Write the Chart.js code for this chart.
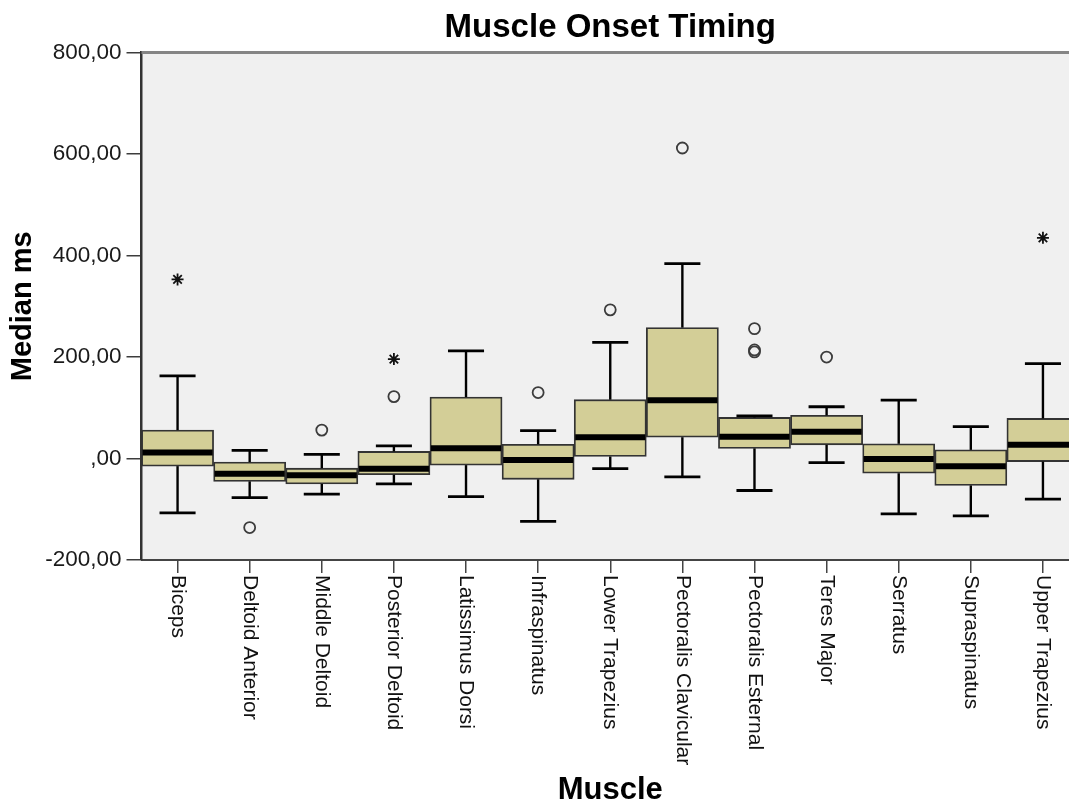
<!DOCTYPE html>
<html>
<head>
<meta charset="utf-8">
<script src="https://cdn.jsdelivr.net/npm/chart.js@4.4.1/dist/chart.umd.min.js"></script>
<style>
  html, body { margin: 0; padding: 0; background: #fff; overflow: hidden; }
  #wrap { width: 1069px; height: 803px; overflow: hidden; }
</style>
</head>
<body>
<div id="wrap"><canvas id="boxChart" width="1090" height="803"></canvas></div>
<script>
const muscles = ['Biceps', 'Deltoid Anterior', 'Middle Deltoid', 'Posterior Deltoid', 'Latissimus Dorsi', 'Infraspinatus',
    'Lower Trapezius', 'Pectoralis Clavicular', 'Pectoralis Esternal', 'Teres Major', 'Serratus', 'Supraspinatus', 'Upper Trapezius'];
const whiskerLow = [-107, -77, -70, -50, -75, -124, -20, -36, -63, -8, -109, -113, -80];
const q1 = [-15, -45, -50, -32, -13, -41, 4, 42, 20, 27, -29, -53, -6];
const medians = [12, -30, -33, -20, 20, -3, 42, 115, 43, 53, -1, -15, 27];
const q3 = [56, -7, -19, 14, 121, 28, 116, 258, 81, 85, 29, 17, 79];
const whiskerHigh = [163, 16, 8, 25, 212, 55, 229, 384, 84, 102, 115, 63, 187];

// circles = outliers, stars = extreme values
const outlierMuscles = ['Deltoid Anterior', 'Middle Deltoid', 'Posterior Deltoid', 'Infraspinatus', 'Lower Trapezius',
    'Pectoralis Clavicular', 'Pectoralis Esternal', 'Pectoralis Esternal', 'Pectoralis Esternal', 'Teres Major'];
const outlierValues = [-136, 56, 122, 130, 293, 612, 256, 214, 210, 200];
const extremeMuscles = ['Biceps', 'Posterior Deltoid', 'Upper Trapezius'];
const extremeValues = [353, 196, 435];

const yTicks = [-200, 0, 200, 400, 600, 800];

const FONT = '"Liberation Sans", Arial, sans-serif';

// grey plot background + top frame line
const plotBackground = {
    id: 'plotBackground',
    beforeDraw(chart) {
        const { ctx, chartArea: a } = chart;
        ctx.save();
        ctx.fillStyle = '#f0f0f0';
        ctx.fillRect(a.left, a.top, a.right - a.left, a.bottom - a.top);
        ctx.restore();
    },
    afterDraw(chart) {
        const { ctx, chartArea: a } = chart;
        ctx.save();
        ctx.strokeStyle = '#858585';
        ctx.lineWidth = 3;
        ctx.beginPath();
        ctx.moveTo(a.left, a.top);
        ctx.lineTo(a.right, a.top);
        ctx.stroke();
        ctx.restore();
    }
};

// whiskers, caps and median lines
const boxDetails = {
    id: 'boxDetails',
    afterDatasetsDraw(chart) {
        const { ctx, scales: { x, y } } = chart;
        const meta = chart.getDatasetMeta(0);
        const seg = (x1, y1, x2, y2) => {
            ctx.beginPath();
            ctx.moveTo(x1, y1);
            ctx.lineTo(x2, y2);
            ctx.stroke();
        };
        ctx.save();
        ctx.strokeStyle = '#000';
        muscles.forEach((m, i) => {
            const cx = x.getPixelForTick(i);
            const half = meta.data[i].width / 2;
            const capHalf = half / 2;
            const yHi = y.getPixelForValue(whiskerHigh[i]);
            const yLo = y.getPixelForValue(whiskerLow[i]);

            ctx.lineWidth = 2.4;
            seg(cx, y.getPixelForValue(q3[i]), cx, yHi);
            seg(cx, y.getPixelForValue(q1[i]), cx, yLo);

            ctx.lineWidth = 2.8;
            seg(cx - capHalf, yHi, cx + capHalf, yHi);
            seg(cx - capHalf, yLo, cx + capHalf, yLo);

            ctx.lineWidth = 6;
            const yMed = y.getPixelForValue(medians[i]);
            seg(cx - half + 1, yMed, cx + half - 1, yMed);
        });
        ctx.restore();
    }
};

// category labels read top to bottom
const xLabels = {
    id: 'xLabels',
    afterDraw(chart) {
        const { ctx, scales: { x } } = chart;
        ctx.save();
        ctx.font = '21px ' + FONT;
        ctx.fillStyle = '#111';
        ctx.textAlign = 'left';
        ctx.textBaseline = 'middle';
        muscles.forEach((m, i) => {
            ctx.save();
            ctx.translate(x.getPixelForTick(i), x.top + 15);
            ctx.rotate(Math.PI / 2);
            ctx.fillText(m, 0, 0);
            ctx.restore();
        });
        ctx.restore();
    }
};

new Chart(document.getElementById('boxChart'), {
    type: 'bar',
    data: {
        labels: muscles,
        datasets: [
            {
                type: 'bar',
                label: 'Median ms',
                data: muscles.map((m, i) => [q1[i], q3[i]]),
                backgroundColor: '#d3ce97',
                borderColor: '#333',
                borderWidth: 1.8,
                borderSkipped: false,
                categoryPercentage: 1,
                barPercentage: 1,
                order: 3
            },
            {
                type: 'line',
                label: 'Outliers',
                data: outlierMuscles.map((m, i) => ({ x: m, y: outlierValues[i] })),
                showLine: false,
                pointStyle: 'circle',
                pointRadius: 5.5,
                pointBorderWidth: 1.8,
                pointBorderColor: '#3c3c3c',
                pointBackgroundColor: 'rgba(0,0,0,0)',
                order: 1
            },
            {
                type: 'line',
                label: 'Extremes',
                data: extremeMuscles.map((m, i) => ({ x: m, y: extremeValues[i] })),
                showLine: false,
                pointStyle: 'star',
                pointRadius: 6,
                pointBorderWidth: 1.8,
                pointBorderColor: '#111',
                pointBackgroundColor: '#111',
                order: 1
            }
        ]
    },
    options: {
        responsive: false,
        animation: false,
        layout: { padding: { left: 0, right: 11, top: 0, bottom: 0 } },
        plugins: {
            legend: { display: false },
            tooltip: { enabled: false },
            title: {
                display: true,
                text: 'Muscle Onset Timing',
                fullSize: false,
                color: '#000',
                font: { family: FONT, size: 33, weight: 'bold' },
                padding: { top: 8, bottom: 5 }
            }
        },
        scales: {
            x: {
                offset: true,
                grid: { offset: false, drawOnChartArea: false, drawTicks: true, tickLength: 13, color: '#444', lineWidth: 1.5 },
                border: { color: '#444', width: 2 },
                ticks: { display: false },
                title: {
                    display: true,
                    text: 'Muscle',
                    color: '#000',
                    font: { family: FONT, size: 31, weight: 'bold', lineHeight: 0.8 },
                    padding: { top: 0, bottom: 0 }
                },
                afterFit(scale) { scale.width; scale.height = 243; }
            },
            y: {
                min: -200,
                max: 800,
                afterBuildTicks(scale) { scale.ticks = yTicks.map(v => ({ value: v })); },
                ticks: {
                    color: '#1a1a1a',
                    padding: 5,
                    font: { family: FONT, size: 22.5 },
                    callback: v => v === 0 ? ',00' : v.toFixed(2).replace('.', ',')
                },
                grid: { drawOnChartArea: false, drawTicks: true, tickLength: 15, color: '#3c3c3c', lineWidth: 1.5 },
                border: { color: '#333', width: 2.5 },
                title: {
                    display: true,
                    text: 'Median ms',
                    color: '#000',
                    font: { family: FONT, size: 29, weight: 'bold' },
                    padding: { top: 6, bottom: 0 }
                },
                afterFit(scale) { scale.width = 141.5; }
            }
        }
    },
    plugins: [plotBackground, boxDetails, xLabels]
});
</script>
</body>
</html>
